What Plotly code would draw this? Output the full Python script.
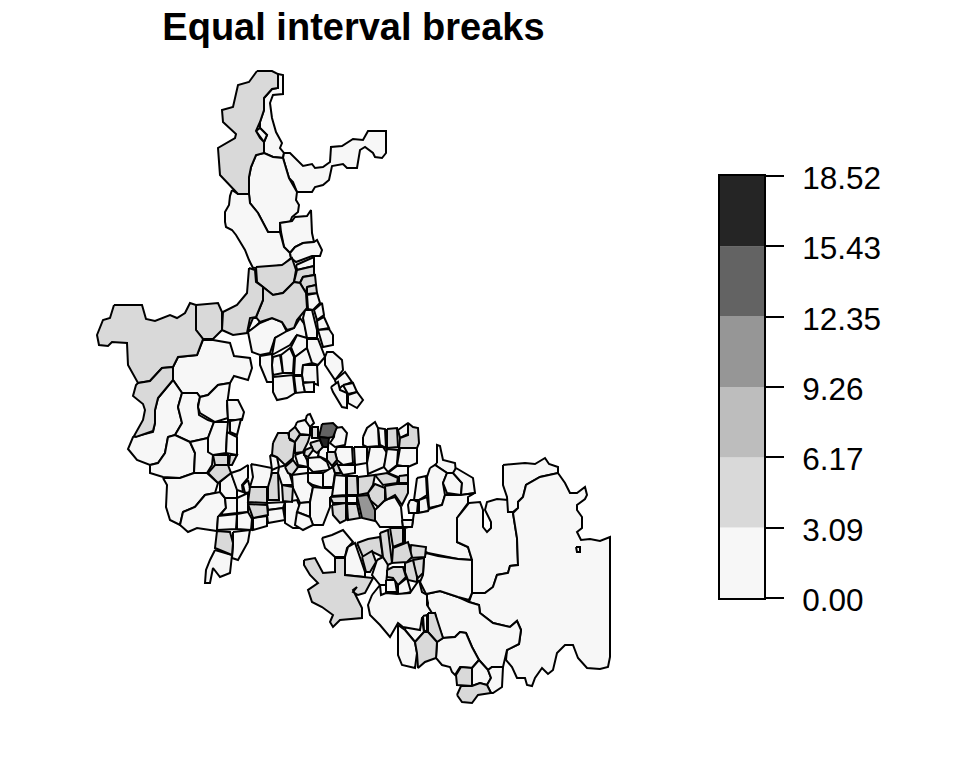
import plotly.graph_objects as go

title_text = "Equal interval breaks"
breaks = [0.00, 3.09, 6.17, 9.26, 12.35, 15.43, 18.52]
break_labels = ["0.00", "3.09", "6.17", "9.26", "12.35", "15.43", "18.52"]
shades = ["#F7F7F7", "#D9D9D9", "#BDBDBD", "#969696", "#636363", "#252525"]

band0_outlines = [
 [(278,74),(283,75),(283,94),(273,95),(270,103),(272,118),(276,132),(282,143),(280,148),(284,153),(283,158),(273,157),(264,153),(264,142),(267,135),(260,128),(260,122),(264,110),(264,98),(272,89),(278,88)],
 [(260,128),(267,135),(264,142),(256,131)],
 [(284,153),(290,153),(303,166),(312,164),(315,168),(323,167),(330,162),(331,147),(342,146),(353,139),(363,140),(368,131),(386,131),(386,153),(382,158),(375,157),(373,153),(365,147),(360,150),(357,168),(347,168),(343,164),(332,166),(329,180),(323,185),(315,187),(312,192),(297,192),(293,182),(289,178),(283,158)],
 [(256,155),(264,153),(273,157),(283,158),(289,178),(297,192),(296,200),(299,205),(298,212),(292,217),(290,222),(280,223),(280,232),(268,232),(258,213),(250,203),(249,194),(249,177),(251,167)],
 [(280,223),(292,221),(295,217),(307,216),(311,210),(312,233),(314,242),(303,243),(295,247),(290,253),(284,247),(281,232)],
 [(232,190),(238,194),(249,194),(250,203),(258,213),(268,232),(280,232),(284,247),(290,253),(291,258),(283,265),(270,267),(253,268),(249,260),(245,250),(241,243),(236,235),(232,230),(226,227),(225,222),(225,212),(229,205),(230,196)],
 [(290,253),(295,247),(303,243),(314,242),(317,240),(322,250),(320,256),(312,256),(296,262),(291,258)],
 [(296,265),(314,257),(314,266),(297,270)],
 [(203,340),(213,340),(230,343),(234,356),(250,358),(252,368),(248,380),(234,376),(230,383),(218,385),(208,395),(200,397),(197,393),(182,393),(173,380),(173,367),(178,357),(197,355)],
 [(158,398),(173,380),(182,393),(178,407),(182,423),(175,435),(168,437),(165,453),(158,463),(150,465),(137,460),(128,449),(133,437),(153,432),(155,423),(155,410)],
 [(182,393),(197,393),(200,397),(198,405),(199,415),(208,420),(214,422),(208,438),(190,442),(175,435),(182,423),(178,407)],
 [(168,437),(175,435),(190,442),(195,453),(194,473),(180,478),(163,477),(150,473),(150,465),(158,463),(165,453)],
 [(190,442),(208,438),(210,452),(213,455),(212,465),(207,473),(194,473),(195,453)],
 [(200,397),(208,395),(218,385),(230,383),(227,405),(228,418),(215,422),(200,413),(198,407)],
 [(227,400),(238,400),(244,412),(242,420),(228,420)],
 [(214,422),(228,422),(227,433),(226,453),(213,455),(208,452),(208,438)],
 [(230,421),(241,419),(237,435),(230,432)],
 [(227,432),(237,437),(237,455),(226,453)],
 [(163,478),(180,478),(194,473),(207,473),(218,483),(215,493),(205,495),(195,507),(183,512),(180,525),(170,520),(166,507),(167,485)],
 [(183,512),(195,507),(205,495),(215,493),(220,492),(225,498),(226,508),(218,517),(217,531),(197,528),(188,532),(180,525)],
 [(220,482),(231,473),(237,488),(237,498),(225,498),(220,492)],
 [(231,473),(240,470),(248,465),(248,478),(242,485),(243,492),(237,490)],
 [(243,485),(248,480),(251,492),(245,493)],
 [(237,498),(248,493),(248,512),(237,513)],
 [(225,498),(237,498),(237,513),(220,515),(226,508)],
 [(218,516),(237,514),(236,529),(217,530)],
 [(237,514),(248,512),(252,519),(251,530),(237,529)],
 [(233,532),(250,530),(248,542),(238,560),(232,558),(233,545)],
 [(215,550),(232,555),(230,573),(220,577),(213,568),(210,583),(205,583),(206,570),(210,560)],
 [(251,464),(272,468),(270,487),(250,487),(253,477)],
 [(267,503),(285,502),(283,508),(268,510)],
 [(268,510),(283,508),(285,520),(268,523),(267,515)],
 [(253,518),(267,516),(267,526),(253,530)],
 [(279,467),(287,465),(293,485),(282,485),(278,473)],
 [(270,455),(277,457),(279,467),(272,470)],
 [(285,502),(297,500),(300,507),(300,528),(293,528),(285,523),(285,510)],
 [(307,415),(310,414),(314,423),(310,427),(305,422)],
 [(297,422),(305,420),(310,427),(310,435),(300,434),(295,427)],
 [(335,428),(342,427),(347,433),(345,445),(335,447),(330,443),(334,437)],
 [(320,447),(328,447),(328,452),(327,460),(318,456)],
 [(308,458),(320,457),(327,462),(330,470),(313,472),(308,467)],
 [(295,455),(303,452),(307,460),(308,467),(298,465)],
 [(298,467),(308,467),(308,473),(300,477),(292,475)],
 [(308,473),(323,473),(323,488),(313,485),(308,482)],
 [(323,473),(333,467),(335,473),(333,487),(323,487)],
 [(292,475),(308,473),(308,482),(313,487),(310,502),(300,503),(293,488)],
 [(313,487),(323,488),(333,488),(333,497),(330,498),(330,507),(323,525),(313,525),(310,517),(310,502)],
 [(300,503),(310,502),(310,517),(297,512)],
 [(297,512),(310,517),(313,525),(303,530),(295,525)],
 [(337,447),(352,447),(353,463),(343,465),(337,460),(335,452)],
 [(354,447),(367,447),(367,463),(355,465)],
 [(370,447),(383,447),(387,453),(384,467),(368,474),(367,463)],
 [(387,449),(398,450),(397,465),(388,472),(384,467)],
 [(400,448),(417,448),(417,463),(408,467),(397,465)],
 [(398,430),(408,423),(408,434),(400,438)],
 [(378,428),(385,429),(386,448),(380,445)],
 [(363,437),(367,428),(375,422),(378,428),(379,446),(367,447),(363,445)],
 [(337,465),(343,465),(355,465),(355,473),(343,475)],
 [(335,475),(346,476),(346,495),(332,496)],
 [(388,473),(397,466),(408,466),(408,475),(398,477)],
 [(347,496),(357,496),(357,503),(347,503)],
 [(378,507),(385,500),(395,497),(401,507),(403,527),(380,527),(375,520),(375,510)],
 [(437,463),(437,445),(440,446),(443,460),(455,463),(456,473),(447,473),(435,465)],
 [(430,468),(435,465),(447,473),(443,483),(445,495),(442,505),(429,508),(427,477)],
 [(447,473),(453,473),(462,483),(461,495),(447,493),(443,483)],
 [(456,468),(473,478),(475,493),(461,495),(462,483),(453,473)],
 [(417,478),(426,476),(427,495),(419,500),(414,500)],
 [(419,500),(427,497),(429,511),(419,513)],
 [(410,500),(414,500),(418,502),(417,513),(409,513),(408,505)],
 [(429,509),(442,505),(445,495),(461,495),(475,493),(468,497),(468,503),(457,518),(457,542),(468,547),(472,560),(458,559),(428,553),(410,545),(405,543),(405,528),(412,526),(414,513),(418,513),(428,511)],
 [(469,503),(480,502),(483,510),(483,527),(487,532),(491,528),(491,522),(485,510),(487,502),(497,499),(508,500),(513,513),(517,538),(518,565),(510,566),(508,573),(497,575),(493,587),(485,593),(472,593),(472,560),(468,547),(457,542),(457,518)],
 [(503,465),(525,463),(535,464),(545,458),(549,464),(558,467),(558,473),(540,477),(526,485),(523,497),(518,502),(518,508),(513,512),(508,512),(507,497),(503,485)],
 [(513,513),(518,508),(518,502),(523,497),(526,485),(540,477),(558,473),(565,483),(570,493),(577,493),(585,487),(587,495),(585,499),(577,505),(577,510),(582,517),(582,528),(577,532),(581,540),(590,539),(600,541),(610,537),(610,657),(608,667),(600,669),(587,668),(578,658),(573,645),(565,645),(557,653),(553,670),(548,674),(542,668),(535,678),(532,686),(527,685),(525,678),(517,678),(512,667),(506,660),(507,650),(519,644),(521,630),(517,621),(510,627),(493,623),(480,613),(479,605),(469,602),(472,593),(485,593),(493,587),(497,575),(508,573),(510,566),(518,565),(517,538)],
 [(576,547),(580,547),(580,552),(577,552)],
 [(426,594),(440,591),(458,597),(469,602),(479,605),(480,613),(493,623),(510,627),(517,621),(521,630),(519,644),(507,650),(503,667),(492,667),(488,670),(479,660),(472,647),(466,633),(460,632),(455,637),(443,638),(437,622),(435,613),(427,615),(428,603)],
 [(426,553),(438,556),(458,559),(472,560),(472,593),(469,600),(458,597),(440,591),(426,594),(420,582),(423,575),(424,558)],
 [(407,622),(422,618),(424,632),(415,642),(405,630)],
 [(437,642),(443,638),(455,637),(460,632),(466,633),(472,647),(479,660),(472,668),(460,667),(455,675),(452,672),(450,667),(442,665),(436,658)],
 [(472,668),(479,660),(488,670),(491,678),(487,685),(480,683),(472,686)],
 [(488,670),(492,667),(503,667),(502,687),(493,693),(491,693),(487,685),(491,678)],
 [(322,538),(332,535),(343,530),(353,542),(347,548),(345,557),(335,557),(325,548)],
 [(348,547),(355,543),(365,572),(365,577),(345,575),(345,557)],
 [(377,560),(383,557),(388,563),(387,575),(386,585),(380,585),(372,575)],
 [(386,580),(395,580),(397,592),(386,592)],
 [(398,585),(407,578),(411,592),(398,595)],
 [(372,595),(380,585),(381,595),(386,593),(397,594),(410,593),(419,580),(422,592),(427,595),(427,605),(432,613),(422,618),(420,630),(403,627),(398,623),(390,637),(380,625),(370,615),(368,605)],
 [(398,625),(405,630),(415,642),(417,653),(415,668),(402,665),(398,655)],
 [(423,616),(427,615),(427,632),(424,630)],
 [(402,520),(413,520),(412,527),(403,527)],
 [(248,330),(253,318),(258,318),(260,322),(255,327),(251,330)],
 [(248,332),(260,323),(272,318),(282,322),(287,332),(275,338),(270,353),(260,355),(252,352)],
 [(287,331),(294,328),(300,318),(305,325),(307,338),(296,336),(290,345),(272,355),(275,338)],
 [(260,356),(272,354),(273,382),(267,382),(260,365)],
 [(273,357),(280,355),(283,373),(273,375),(272,365)],
 [(281,355),(290,348),(294,357),(293,373),(283,373)],
 [(291,347),(297,335),(307,338),(307,348),(295,357)],
 [(295,357),(307,348),(313,363),(303,365),(302,375),(294,375)],
 [(303,365),(317,365),(318,385),(313,383),(303,382),(302,375)],
 [(273,377),(293,375),(295,393),(287,398),(277,400),(273,392)],
 [(294,376),(302,376),(303,382),(305,392),(296,393)],
 [(303,383),(314,382),(314,392),(305,392)],
 [(305,310),(312,310),(317,330),(317,338),(307,338),(303,318)],
 [(307,295),(317,293),(320,303),(313,310),(308,309)],
 [(314,310),(322,303),(324,315),(317,320)],
 [(317,321),(324,317),(329,328),(318,330)],
 [(318,330),(329,329),(333,335),(333,345),(323,347)],
 [(307,339),(318,339),(325,357),(318,365),(312,363),(307,348)],
 [(325,357),(327,352),(333,352),(342,360),(343,370),(335,380),(325,365)],
 [(335,380),(345,372),(352,382),(342,386),(338,390)],
 [(331,387),(338,382),(340,390),(347,393),(347,408),(342,407),(333,392)],
 [(343,385),(353,383),(357,392),(348,394)],
 [(348,395),(357,392),(363,400),(357,408),(348,403)],
]

band1_outlines = [
 [(257,71),(272,71),(278,74),(278,88),(272,89),(264,98),(264,110),(260,122),(256,131),(260,138),(264,142),(264,153),(256,155),(251,167),(249,177),(249,194),(238,194),(232,188),(220,175),(218,148),(235,138),(236,134),(223,122),(222,110),(233,107),(238,85),(249,82)],
 [(256,267),(282,265),(292,258),(296,270),(294,282),(283,293),(273,295),(263,287),(257,282)],
 [(297,270),(314,266),(314,275),(303,277),(300,283),(294,282)],
 [(300,283),(303,277),(315,275),(316,285),(307,287),(306,293)],
 [(307,287),(316,285),(317,293),(307,294)],
 [(263,287),(273,295),(283,293),(294,282),(300,283),(306,293),(307,308),(297,320),(294,328),(287,330),(282,322),(272,318),(260,322),(256,317),(263,300)],
 [(249,268),(255,270),(256,282),(263,287),(263,300),(256,317),(250,318),(247,333),(233,335),(222,330),(223,312),(237,305),(247,293),(248,273)],
 [(196,305),(218,303),(222,312),(222,330),(213,339),(203,339),(196,330)],
 [(114,305),(142,305),(146,319),(155,321),(170,315),(177,318),(185,313),(190,303),(196,305),(196,330),(203,339),(197,355),(178,357),(173,367),(162,368),(150,381),(138,383),(128,365),(127,343),(112,342),(108,346),(99,345),(97,335),(103,320),(110,318)],
 [(138,383),(150,381),(162,368),(173,367),(173,380),(158,398),(155,410),(155,423),(153,431),(136,437),(134,436),(143,420),(145,410),(143,404),(133,396),(136,385)],
 [(213,455),(228,455),(228,465),(215,465)],
 [(230,455),(237,455),(232,465),(229,465)],
 [(215,465),(228,465),(231,473),(218,483),(208,473)],
 [(217,531),(230,532),(233,543),(232,555),(215,548)],
 [(250,487),(267,487),(267,503),(248,502)],
 [(248,504),(267,505),(268,515),(253,518)],
 [(268,487),(272,473),(278,473),(279,500),(268,500)],
 [(282,485),(293,487),(292,502),(283,501)],
 [(273,443),(278,433),(288,433),(290,440),(295,442),(293,458),(285,465),(277,457),(272,455)],
 [(289,432),(295,427),(300,434),(295,442),(289,438)],
 [(312,427),(318,427),(318,438),(312,438)],
 [(300,435),(310,435),(308,442),(303,452),(295,453),(295,442)],
 [(310,443),(320,440),(323,447),(317,453),(313,450)],
 [(305,450),(312,447),(313,450),(308,457),(304,455)],
 [(327,452),(335,452),(337,460),(332,466),(327,460)],
 [(285,467),(293,460),(298,467),(292,475),(288,473)],
 [(333,467),(337,463),(341,473),(335,473)],
 [(347,476),(357,476),(358,495),(347,495)],
 [(358,477),(375,475),(373,485),(368,493),(358,495)],
 [(375,475),(387,473),(398,478),(397,483),(383,485)],
 [(399,476),(408,475),(408,483),(399,483)],
 [(368,493),(375,484),(385,488),(385,500),(378,507),(370,500)],
 [(385,486),(397,484),(408,484),(408,493),(402,505),(395,495),(386,500)],
 [(330,497),(346,496),(346,503),(333,503)],
 [(332,505),(346,503),(346,520),(340,523),(333,515)],
 [(347,504),(357,504),(360,518),(348,520)],
 [(400,438),(408,435),(408,423),(413,427),(418,428),(419,443),(417,448),(399,448)],
 [(387,429),(397,428),(398,447),(387,448)],
 [(411,545),(426,547),(425,557),(410,558)],
 [(413,560),(424,558),(423,573),(418,578),(415,573)],
 [(405,563),(413,560),(417,577),(417,582),(408,580),(405,572)],
 [(428,613),(435,613),(443,638),(437,642),(428,632)],
 [(415,642),(424,632),(428,632),(437,642),(436,658),(425,662),(418,668),(417,653)],
 [(456,675),(461,667),(472,668),(472,686),(457,685)],
 [(457,695),(461,686),(472,686),(480,683),(487,685),(491,693),(478,695),(472,703),(462,702)],
 [(304,560),(315,558),(323,573),(335,572),(335,558),(345,558),(345,575),(365,577),(373,578),(365,593),(358,595),(353,592),(357,587),(353,590),(362,608),(362,618),(340,620),(333,627),(330,622),(333,615),(322,607),(312,602),(308,590),(318,583),(310,575),(304,565)],
 [(357,543),(368,539),(380,537),(383,557),(373,552),(363,557)],
 [(362,557),(372,551),(376,562),(370,572),(366,572)],
 [(380,533),(388,530),(392,563),(388,565),(383,557)],
 [(390,528),(403,528),(403,543),(393,547)],
 [(393,548),(408,542),(412,557),(407,562),(392,563)],
 [(387,570),(393,567),(403,567),(406,577),(398,585),(393,578),(387,577)],
]

band2_outlines = []
band3_outlines = [
 [(357,496),(368,495),(375,510),(375,521),(362,518)],
]
band4_outlines = [
 [(322,424),(333,423),(337,427),(333,437),(328,438),(319,437)],
]
band5_outlines = [
 [(319,437),(329,438),(328,447),(323,447)],
]
all_bands = [band0_outlines, band1_outlines, band2_outlines,
             band3_outlines, band4_outlines, band5_outlines]

fig = go.Figure()
for shade, band in zip(shades, all_bands):
    for ring in band:
        closed = ring + ring[:1]
        fig.add_trace(go.Scatter(
            x=[p[0] for p in closed], y=[p[1] for p in closed],
            mode="lines", fill="toself", fillcolor=shade,
            line=dict(color="black", width=2), showlegend=False, hoverinfo="skip",
        ))

for low, high, shade in zip(breaks[:-1], breaks[1:], shades):
    fig.add_trace(go.Bar(
        x=[0], y=[high - low], base=[low], width=[1], marker=dict(color=shade, line=dict(width=0)),
        xaxis="x2", yaxis="y2", showlegend=False, hoverinfo="skip",
    ))

fig.update_layout(
    template="none",
    width=960, height=768, margin=dict(l=0, r=0, t=0, b=0),
    autosize=False, paper_bgcolor="white", plot_bgcolor="rgba(0,0,0,0)",
    barmode="overlay",
    font=dict(family="Liberation Sans", color="black"),
    title=dict(text=f"<b>{title_text}</b>", x=353.5 / 960, xanchor="center",
               y=1 - 27 / 768, yanchor="middle",
               font=dict(family="Liberation Sans", size=38, color="black")),
    xaxis=dict(range=[0, 960], domain=[0, 1], visible=False, fixedrange=True, automargin=False),
    yaxis=dict(range=[768, 0], domain=[0, 1], visible=False, fixedrange=True, automargin=False),
    xaxis2=dict(domain=[719.5 / 960, 764 / 960], range=[-0.5, 0.5], anchor="y2", automargin=False,
                showticklabels=False, ticks="", showgrid=False, zeroline=False,
                showline=True, linecolor="black", linewidth=2, mirror=True),
    yaxis2=dict(domain=[(768 - 598) / 768, (768 - 176) / 768], range=[breaks[0], breaks[-1]],
                anchor="x2", side="right", tickmode="array", tickvals=breaks, ticktext=break_labels,
                ticks="outside", ticklen=18, tickwidth=2, tickcolor="black", automargin=False,
                ticklabelstandoff=12, ticklabelshift=2,
                tickfont=dict(family="Liberation Sans", size=31.5, color="black"),
                showgrid=False, zeroline=False, showline=True, linecolor="black", linewidth=2, mirror=True),
)
fig.write_html("out.html", config=dict(displayModeBar=False),
               post_script="document.body.style.margin='0';window.dispatchEvent(new Event('resize'));")
